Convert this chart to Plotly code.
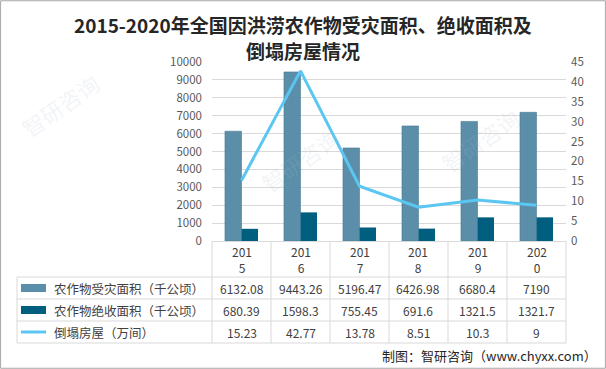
import plotly.graph_objects as go

years = ["2015", "2016", "2017", "2018", "2019", "2020"]
affected = [6132.08, 9443.26, 5196.47, 6426.98, 6680.4, 7190]
lost = [680.39, 1598.3, 755.45, 691.6, 1321.5, 1321.7]
houses = [15.23, 42.77, 13.78, 8.51, 10.3, 9]
affected_txt = ["6132.08", "9443.26", "5196.47", "6426.98", "6680.4", "7190"]
lost_txt = ["680.39", "1598.3", "755.45", "691.6", "1321.5", "1321.7"]
houses_txt = ["15.23", "42.77", "13.78", "8.51", "10.3", "9"]
series_names = ["农作物受灾面积（千公顷）", "农作物绝收面积（千公顷）", "倒塌房屋（万间）"]
title_lines = ["2015-2020年全国因洪涝农作物受灾面积、绝收面积及", "倒塌房屋情况"]
source = "制图：智研咨询（www.chyxx.com）"

W, H = 606, 369
C1, C2, C3 = "#5B8FA9", "#005F7F", "#5CC6F2"
FONT = "Noto Sans CJK SC"
GRID = "#D9D9D9"


def py(p):
    return 1 - p / H


def px(p):
    return p / W


fig = go.Figure()
fig.add_bar(x=years, y=affected, name=series_names[0], marker=dict(color=C1, line=dict(color="#4A7A92", width=0.6)), yaxis="y")
fig.add_bar(x=years, y=lost, name=series_names[1], marker=dict(color=C2, line=dict(width=0)), yaxis="y")
fig.add_scatter(x=years, y=houses, name=series_names[2], mode="lines", line=dict(color=C3, width=3), yaxis="y2")

x0, x1 = 212, 566
n = len(years)
fig.update_layout(
    width=W, height=H,
    margin=dict(l=0, r=0, t=0, b=0, autoexpand=False),
    paper_bgcolor="white", plot_bgcolor="white",
    showlegend=False,
    barmode="group", bargap=0.44, bargroupgap=0,
    font=dict(family=FONT, size=12, color="#595959"),
    xaxis=dict(domain=[px(x0), px(x1)], type="category", categoryorder="array", categoryarray=years,
               range=[-0.5, n - 0.5], showticklabels=False, automargin=False,
               showline=True, linecolor=GRID, linewidth=1, ticks="", showgrid=False),
    yaxis=dict(domain=[py(241), py(62)], range=[0, 10000], dtick=1000, tickformat="d", showgrid=True,
               gridcolor=GRID, gridwidth=1, zeroline=False, showline=False, automargin=False,
               tickfont=dict(size=11.5, color="#595959"), ticks="", ticklen=0, ticklabelstandoff=9),
    yaxis2=dict(overlaying="y", side="right", range=[0, 45], dtick=5, showgrid=False, automargin=False,
                zeroline=False, showline=False, tickfont=dict(size=11.5, color="#595959"),
                ticklabelstandoff=4),
)

ann = []
# faint watermarks (drawn first, behind)
for (wx, wy) in [(60, 105), (300, 160), (480, 140)]:
    ann.append(dict(text="智研咨询", x=px(wx), y=py(wy), xref="paper", yref="paper", showarrow=False,
                    xanchor="center", yanchor="middle",
                    textangle=-35, font=dict(size=22, color="rgba(170,185,205,0.16)")))
for k, (tl, ty) in enumerate(zip(title_lines, [24, 51])):
    ann.append(dict(text="<b>" + tl + "</b>", x=0.5, y=py(ty), xref="paper", yref="paper",
                    showarrow=False, font=dict(size=19, color="#262626", family=FONT),
                    xanchor="center", yanchor="middle", align="center"))
rows_y = [288, 310, 332]
for i, yr in enumerate(years):
    cx = px(x0 + (i + 0.5) * (x1 - x0) / n)
    ann.append(dict(text=yr[:3] + "<br>" + yr[3:], x=cx, y=py(259), xref="paper", yref="paper",
                    showarrow=False, font=dict(size=12, color="#404040"), xanchor="center",
                    yanchor="middle", align="center"))
    for r, vals in enumerate([affected_txt, lost_txt, houses_txt]):
        ann.append(dict(text=vals[i], x=cx, y=py(rows_y[r]), xref="paper", yref="paper",
                        showarrow=False, font=dict(size=12, color="#404040"), xanchor="center",
                        yanchor="middle"))
for r, nm in enumerate(series_names):
    ann.append(dict(text=nm, x=px(52), y=py(rows_y[r]), xref="paper", yref="paper",
                    showarrow=False, xanchor="left", yanchor="middle",
                    font=dict(size=12.5, color="#404040")))
ann.append(dict(text=source, x=px(599), y=py(355), xref="paper", yref="paper", showarrow=False,
                xanchor="right", yanchor="middle", font=dict(size=13, color="#262626")))
fig.update_layout(annotations=ann)

shapes = []
line = dict(color=GRID, width=1)
for yy in [277, 299, 321, 343]:
    shapes.append(dict(type="line", xref="paper", yref="paper", x0=px(17), x1=px(x1), y0=py(yy), y1=py(yy), line=line))
shapes.append(dict(type="line", xref="paper", yref="paper", x0=px(17), x1=px(17), y0=py(277), y1=py(343), line=line))
for k in range(n + 1):
    xx = x0 + k * (x1 - x0) / n
    shapes.append(dict(type="line", xref="paper", yref="paper", x0=px(xx), x1=px(xx), y0=py(241), y1=py(343), line=line))
# legend swatches
shapes.append(dict(type="rect", xref="paper", yref="paper", x0=px(21), x1=px(46), y0=py(292), y1=py(284),
                   fillcolor=C1, line=dict(width=0)))
shapes.append(dict(type="rect", xref="paper", yref="paper", x0=px(21), x1=px(46), y0=py(314), y1=py(306),
                   fillcolor=C2, line=dict(width=0)))
shapes.append(dict(type="line", xref="paper", yref="paper", x0=px(21), x1=px(46), y0=py(332), y1=py(332),
                   line=dict(color=C3, width=3)))
# outer border
shapes.append(dict(type="rect", xref="paper", yref="paper", x0=0.001, x1=0.999, y0=0.002, y1=0.998,
                   line=dict(color="#A6A6A6", width=1)))
fig.update_layout(shapes=shapes)

fig.write_html("out.html", config={"displayModeBar": False},
               post_script="document.body.style.margin='0';")
